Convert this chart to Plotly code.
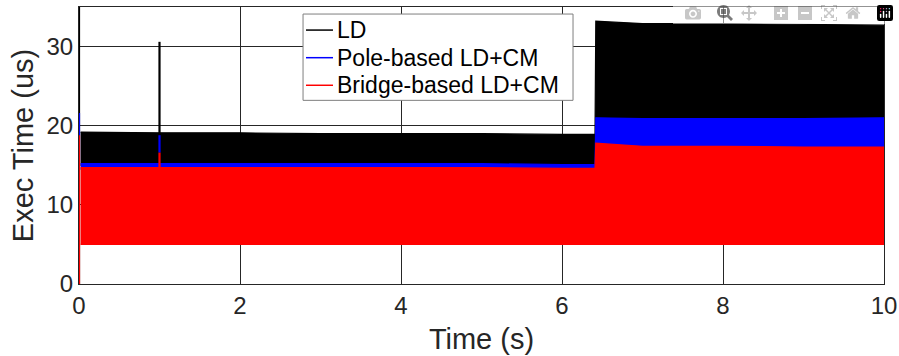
import plotly.graph_objects as go

# ---- data (envelopes of dense signals) ----
time = [0.02, 1.0, 2.0, 3.0, 4.0, 5.0, 6.0, 6.41, 6.42, 7.0, 8.0, 9.0, 10.0]
ld_hi = [19.2, 19.1, 19.1, 19.0, 19.0, 19.0, 18.9, 18.9, 33.2, 32.9, 32.9, 32.8, 32.7]
ld_lo = [15.0, 15.0, 15.0, 15.0, 15.0, 15.0, 15.0, 15.0, 20.5, 20.5, 20.5, 20.5, 20.5]
pole_hi = [15.2, 15.2, 15.2, 15.2, 15.2, 15.2, 15.1, 15.1, 21.0, 20.9, 20.9, 20.9, 21.0]
pole_lo = [14.5, 14.5, 14.5, 14.5, 14.5, 14.5, 14.5, 14.5, 17.2, 17.2, 17.2, 17.2, 17.2]
bridge_hi = [14.7, 14.7, 14.7, 14.7, 14.7, 14.7, 14.6, 14.6, 17.8, 17.4, 17.4, 17.3, 17.3]
bridge_lo = [5.0, 5.0, 5.0, 5.0, 5.0, 5.0, 5.0, 5.0, 5.0, 5.0, 5.0, 5.0, 5.0]

# transient spikes: (time, low, high)
ld_spikes = [(0.0, 0.0, 35.0), (1.0, 15.0, 30.6)]
pole_spikes = [(0.0, 15.0, 21.6), (1.0, 16.6, 18.8)]
bridge_spikes = [(0.0, 0.0, 18.8), (1.0, 14.7, 16.6)]

series_names = ["LD", "Pole-based LD+CM", "Bridge-based LD+CM"]
series_colors = ["#000000", "#0000ff", "#ff0000"]
series_hi = [ld_hi, pole_hi, bridge_hi]
series_lo = [ld_lo, pole_lo, bridge_lo]
series_spikes = [ld_spikes, pole_spikes, bridge_spikes]

x_ticks = [0, 2, 4, 6, 8, 10]
y_ticks = [0, 10, 20, 30]

fig = go.Figure()
font = "Liberation Sans, Arial, sans-serif"

for name, color, hi, lo, spikes in zip(series_names, series_colors, series_hi,
                                       series_lo, series_spikes):
    fig.add_trace(go.Scatter(
        x=time + time[::-1], y=hi + lo[::-1], fill="toself", mode="lines",
        fillcolor=color, line=dict(color=color, width=1.2), name=name,
        showlegend=False, hoverinfo="skip"))
    for t, a, b in spikes:
        fig.add_trace(go.Scatter(x=[t, t], y=[a, b], mode="lines",
                                 line=dict(color=color, width=2.2),
                                 showlegend=False, hoverinfo="skip"))

axis_common = dict(showline=True, linecolor="#262626", linewidth=1, mirror=True,
                   showgrid=True, gridcolor="#262626", gridwidth=1, zeroline=False,
                   ticks="", automargin=False, ticklabeloverflow="allow",
                   tickfont=dict(family=font, size=24, color="#262626"))

# ---- legend drawn as a box with line samples and text (MATLAB style) ----
leg_x0, leg_x1, leg_y0, leg_y1 = 0.2783, 0.6137, 0.663, 0.9746
leg_line_x0, leg_line_x1, leg_text_x = 0.2820, 0.3155, 0.3175
leg_rows = [0.9167, 0.8170, 0.7174]
shapes = [dict(type="rect", xref="paper", yref="paper", x0=leg_x0, x1=leg_x1,
               y0=leg_y0, y1=leg_y1, line=dict(color="#7f7f7f", width=1),
               fillcolor="white", layer="above")]
annotations = []
for name, color, ry in zip(series_names, series_colors, leg_rows):
    shapes.append(dict(type="line", xref="paper", yref="paper", x0=leg_line_x0,
                       x1=leg_line_x1, y0=ry, y1=ry, layer="above",
                       line=dict(color=color, width=1.5)))
    annotations.append(dict(xref="paper", yref="paper", x=leg_text_x, y=ry,
                            xanchor="left", yanchor="middle", text=name,
                            showarrow=False,
                            font=dict(family=font, size=23, color="black")))

fig.update_layout(
    width=899, height=356,
    margin=dict(l=79, r=15, t=7, b=72),
    paper_bgcolor="white", plot_bgcolor="white",
    xaxis=dict(range=[0, 10], tickvals=x_ticks,
               title=dict(text="Time (s)", font=dict(family=font, size=29, color="#262626"), standoff=10),
               **axis_common),
    yaxis=dict(range=[0, 35], tickvals=y_ticks,
               title=dict(text="Exec Time (us)", font=dict(family=font, size=29, color="#262626"), standoff=4),
               **axis_common),
    shapes=shapes, annotations=annotations,
    showlegend=False,
)

# remove the browser's default 8px page margin so the figure fills the window exactly
fig.write_html("out.html",
               post_script="document.body.style.margin='0';"
                           "document.documentElement.style.overflow='hidden';"
                           "document.body.style.overflow='hidden';")
